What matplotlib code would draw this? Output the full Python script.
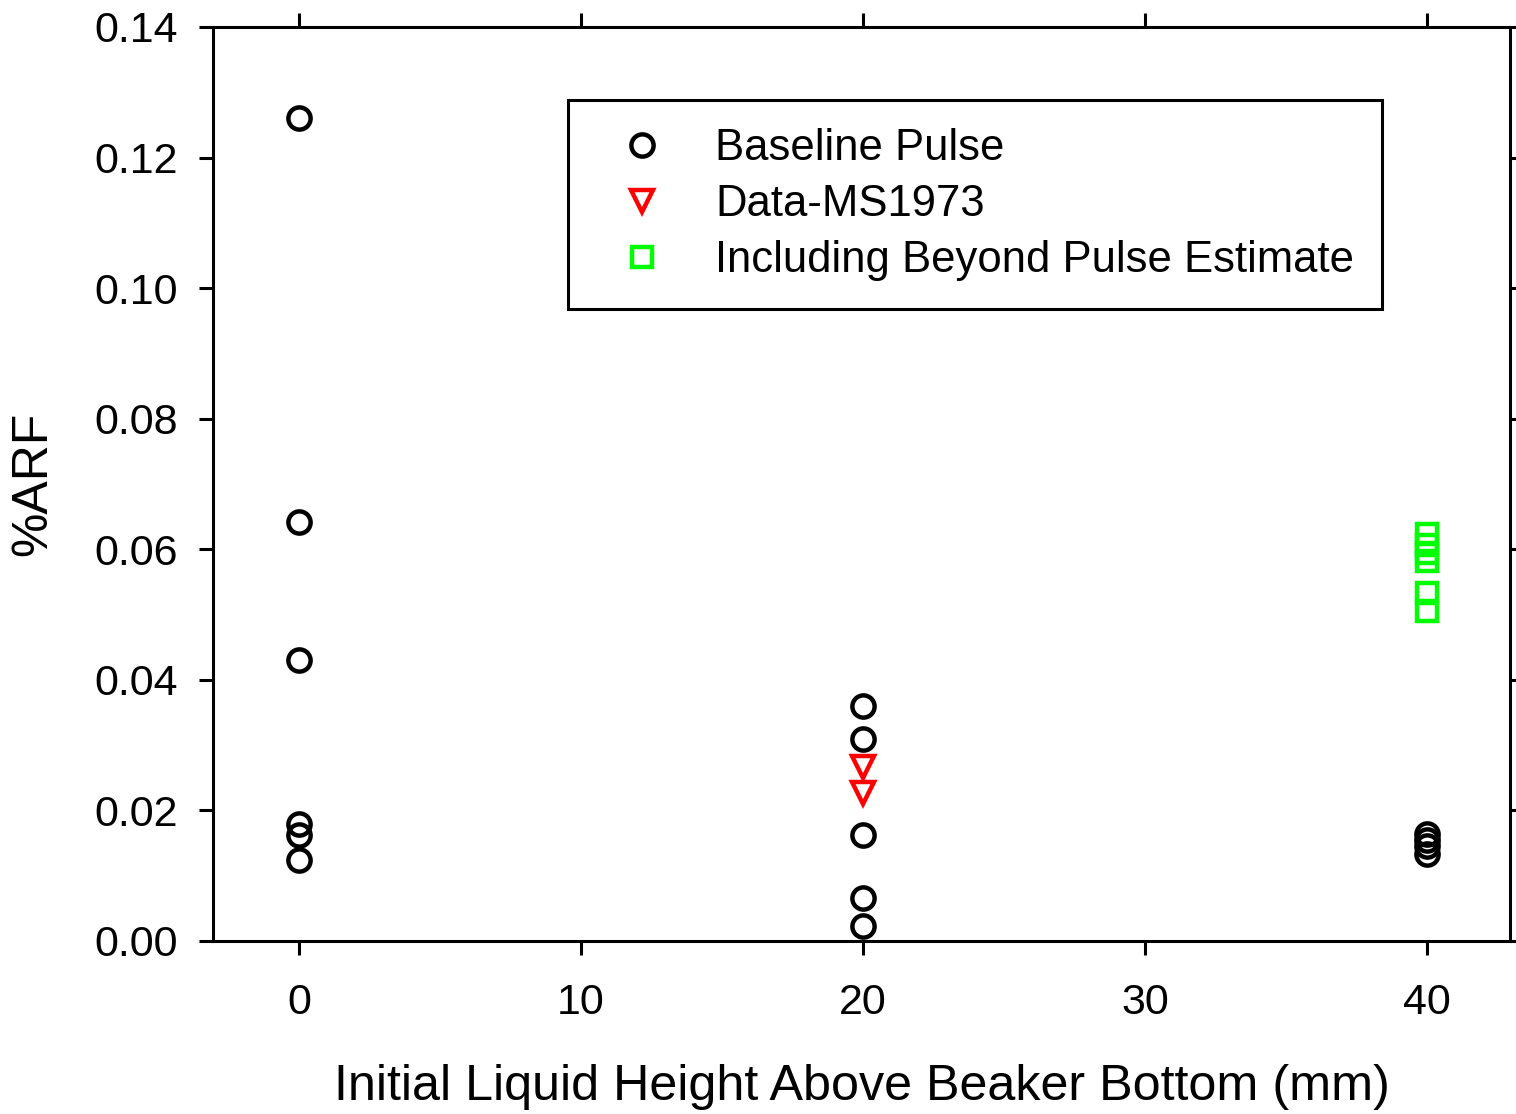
import matplotlib
matplotlib.use("Agg")
import matplotlib.pyplot as plt

plt.rcParams['font.family'] = ['Liberation Sans', 'DejaVu Sans']

# Baseline Pulse
base_x = [0, 0, 0, 0, 0, 0,
          20, 20, 20, 20, 20,
          40, 40, 40, 40]
base_y = [0.1261, 0.0642, 0.0430, 0.0179, 0.0162, 0.0124,
          0.0360, 0.0309, 0.0162, 0.0066, 0.0023,
          0.0164, 0.0155, 0.0145, 0.0134]

# Data-MS1973
ms_x = [20, 20]
ms_y = [0.0267, 0.0227]

# Including Beyond Pulse Estimate
est_x = [40, 40, 40, 40, 40, 40]
est_y = [0.0623, 0.0606, 0.0595, 0.0582, 0.0533, 0.0506]

xticks = [0, 10, 20, 30, 40]
yticks = [0.00, 0.02, 0.04, 0.06, 0.08, 0.10, 0.12, 0.14]

fig = plt.figure(figsize=(15.16, 11.14), dpi=100)
ax = fig.add_axes([0.1405, 0.1553, 0.8555, 0.8205])

ax.plot(base_x, base_y, 'o', ls='none', mfc='none', mec='black',
        ms=16, mew=3.2, label='Baseline Pulse')
ax.plot(ms_x, ms_y, 'v', ls='none', mfc='none', mec='#ff0000',
        ms=16, mew=3.2, label='Data-MS1973')
ax.plot(est_x, est_y, 's', ls='none', mfc='none', mec='#00ff00',
        ms=15, mew=3.2, label='Including Beyond Pulse Estimate')

ax.set_xlim(-3.05, 42.95)
ax.set_ylim(0, 0.14)
ax.set_xticks(xticks)
ax.set_yticks(yticks)
ax.set_yticklabels(['%.2f' % v for v in yticks])

for s in ax.spines.values():
    s.set_linewidth(2.2)
ax.tick_params(axis='both', direction='out', length=10, width=2.2,
               labelsize=31, top=True, right=True)
ax.tick_params(axis='y', pad=15)
ax.tick_params(axis='x', pad=20)

ax.set_xlabel('Initial Liquid Height Above Beaker Bottom (mm)', fontsize=36.2, labelpad=30)
ax.set_ylabel('%ARF', fontsize=36, labelpad=28)

leg = ax.legend(loc='upper left', bbox_to_anchor=(0.2737, 0.92), borderaxespad=0,
                fontsize=31.4, frameon=True, fancybox=False, edgecolor='black',
                framealpha=1, handlelength=2.1, handletextpad=0.62, borderpad=0.65,
                labelspacing=0.34, numpoints=1)
leg.get_frame().set_linewidth(2.2)

fig.savefig('out.png', dpi=100)
